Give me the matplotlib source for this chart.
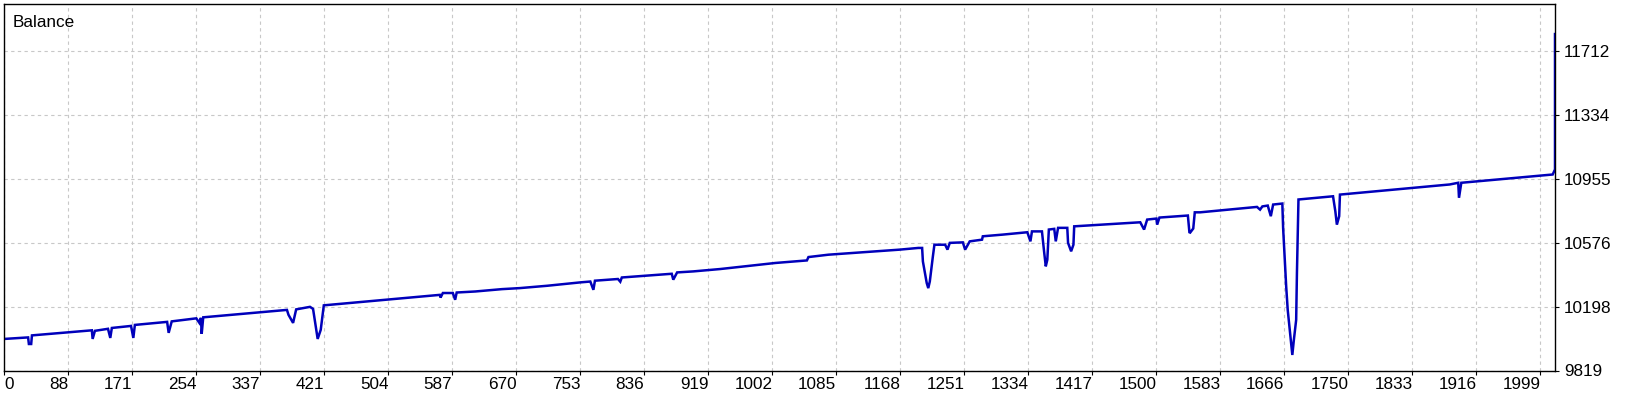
import matplotlib.pyplot as plt
import numpy as np

plt.rcParams['font.family'] = ['Liberation Sans', 'DejaVu Sans']

# Data: balance curve vertices (trade number, balance)
trade = [0, 31, 32, 35, 36, 114, 115, 118, 135, 138, 140, 165, 168, 170,
         212, 214, 218, 250, 254, 256, 257, 259, 368, 370, 376, 380, 398,
         402, 408, 412, 416, 489, 567, 568, 571, 584, 587, 589, 613, 648,
         671, 707, 750, 763, 767, 769, 799, 802, 804, 869, 871, 876, 897,
         932, 1004, 1045, 1047, 1073, 1166, 1190, 1195, 1196, 1201, 1203,
         1205, 1209, 1211, 1225, 1228, 1231, 1248, 1251, 1257, 1273, 1274,
         1300, 1332, 1336, 1338, 1351, 1354, 1356, 1358, 1360, 1367, 1369,
         1372, 1384, 1385, 1389, 1392, 1393, 1479, 1484, 1488, 1500, 1501,
         1504, 1541, 1543, 1544, 1548, 1550, 1557, 1631, 1635, 1638, 1645,
         1649, 1652, 1664, 1665, 1669, 1671, 1675, 1677, 1679, 1682, 1683,
         1684, 1685, 1730, 1733, 1735, 1738, 1739, 1882, 1893, 1894, 1897,
         2016, 2019, 2019]
balance = [10006, 10015, 9976, 9976, 10027, 10057, 10006, 10054, 10066,
           10012, 10071, 10083, 10012, 10089, 10107, 10042, 10110, 10128,
           10101, 10131, 10036, 10134, 10178, 10149, 10101, 10181, 10196,
           10184, 10006, 10060, 10205, 10235, 10267, 10251, 10278, 10278,
           10238, 10281, 10287, 10301, 10307, 10321, 10341, 10346, 10297,
           10351, 10361, 10345, 10370, 10392, 10357, 10400, 10406, 10420,
           10456, 10471, 10491, 10505, 10535, 10545, 10545, 10465, 10337,
           10307, 10346, 10495, 10564, 10564, 10535, 10575, 10578, 10535,
           10584, 10594, 10614, 10624, 10638, 10584, 10643, 10643, 10515,
           10436, 10475, 10654, 10658, 10584, 10664, 10664, 10575, 10525,
           10564, 10673, 10697, 10654, 10713, 10719, 10683, 10725, 10737,
           10638, 10636, 10660, 10756, 10756, 10788, 10772, 10791, 10796,
           10733, 10802, 10808, 10664, 10317, 10178, 10000, 9911, 10000,
           10119, 10396, 10606, 10832, 10851, 10762, 10683, 10733, 10861,
           10921, 10931, 10842, 10931, 10980, 11010, 11812]

x_labels = ['0', '88', '171', '254', '337', '421', '504', '587', '670', '753',
            '836', '919', '1002', '1085', '1168', '1251', '1334', '1417',
            '1500', '1583', '1666', '1750', '1833', '1916', '1999']
y_ticks = [9819, 10198, 10576, 10955, 11334, 11712]

fig = plt.figure(figsize=(16.4, 4), dpi=100)
ax = fig.add_axes([4.3 / 1640, 29.5 / 400, (1555 - 4.3) / 1640, (371 - 4.5) / 400])

ax.plot(trade, balance, color='#0000BB', lw=1.8, solid_joinstyle='miter')

ax.set_xlim(0, 2019)
ax.set_ylim(9819, 11990)

# labels sit to the left of their tick, like the terminal draws them
x_pos = np.arange(len(x_labels)) * 2000 / 24
ax.set_xticks(x_pos)
ax.set_xticklabels(x_labels, ha='right')
ax.get_xticklabels()[0].set_horizontalalignment('left')
ax.set_yticks(y_ticks)
ax.set_yticklabels([str(v) for v in y_ticks])
ax.yaxis.tick_right()

ax.tick_params(axis='both', labelsize=12.3, length=3, width=0.8, color='black')
ax.tick_params(axis='x', pad=2)
ax.tick_params(axis='y', pad=3.5)

ax.grid(True, color='#C8C8C8', linestyle=(0, (3, 3)), lw=0.8)
for s in ax.spines.values():
    s.set_color('black')
    s.set_linewidth(1.0)

fig.text(12.5 / 1640, 1 - 27.3 / 400, 'Balance', fontsize=12.3, va='baseline', ha='left')

fig.savefig('out.png', dpi=100)
